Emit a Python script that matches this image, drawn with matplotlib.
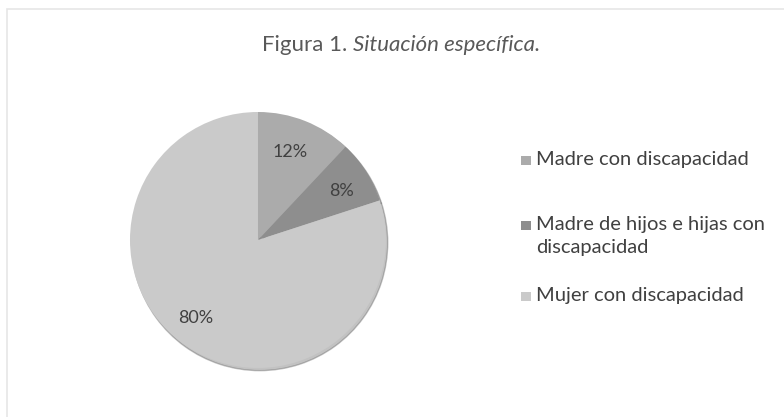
import matplotlib.pyplot as plt
from matplotlib.patches import Rectangle

categorias = ['Madre con discapacidad',
              'Madre de hijos e hijas con\ndiscapacidad',
              'Mujer con discapacidad']
porcentajes = [12, 8, 80]
colores = ['#ababab', '#8e8e8e', '#cacaca']

plt.rcParams['font.family'] = ['Lato', 'DejaVu Sans']

W, H = 784, 417
fig = plt.figure(figsize=(W / 100, H / 100), dpi=100)

# marco del grafico
fig.patches.append(Rectangle((0.009, -0.01), 1.2, 0.988, transform=fig.transFigure,
                             fill=False, edgecolor='#e6e6e6', lw=1.2))

# titulo: parte normal y parte en cursiva
t1 = fig.text(262 / W, 1 - 51 / H, 'Figura 1. ', fontsize=16, color='#595959', va='baseline')
t2 = fig.text(0, 1 - 51 / H, 'Situación específica.', fontsize=16, color='#595959',
              style='italic', va='baseline')
fig.canvas.draw()
bb = t1.get_window_extent()
t2.set_x(fig.transFigure.inverted().transform((bb.x1, bb.y0))[0])

ax = fig.add_axes([0.1658, 0.1175, 0.3265, 0.614])
cuñas, textos = ax.pie(porcentajes, colors=colores, startangle=90, counterclock=False,
                       wedgeprops=dict(edgecolor='none'),
                       shadow=dict(shade=0.6, ox=0.01, oy=-0.015, alpha=0.35))
ax.set_xlim(-1, 1)
ax.set_ylim(-1, 1)
ax.set_aspect('equal')

# etiquetas de porcentaje
pos = [(0.25, 0.69), (0.65, 0.38), (-0.49, -0.61)]
for (x, y), v in zip(pos, porcentajes):
    ax.text(x, y, f'{v}%', ha='center', va='center', fontsize=13, color='#404040')

# leyenda dibujada a mano (espaciado irregular)
filas = [160, 225, 296]
for y, cat, col in zip(filas, categorias, colores):
    fig.patches.append(Rectangle((521 / W, 1 - (y + 4.5) / H), 10 / W, 9 / H,
                                 transform=fig.transFigure, facecolor=col,
                                 edgecolor='none'))
    fig.text(536 / W, 1 - (y - 9) / H, cat, fontsize=14.5, color='#404040',
             va='top', ha='left', linespacing=1.4)

fig.savefig('out.png', dpi=100)
